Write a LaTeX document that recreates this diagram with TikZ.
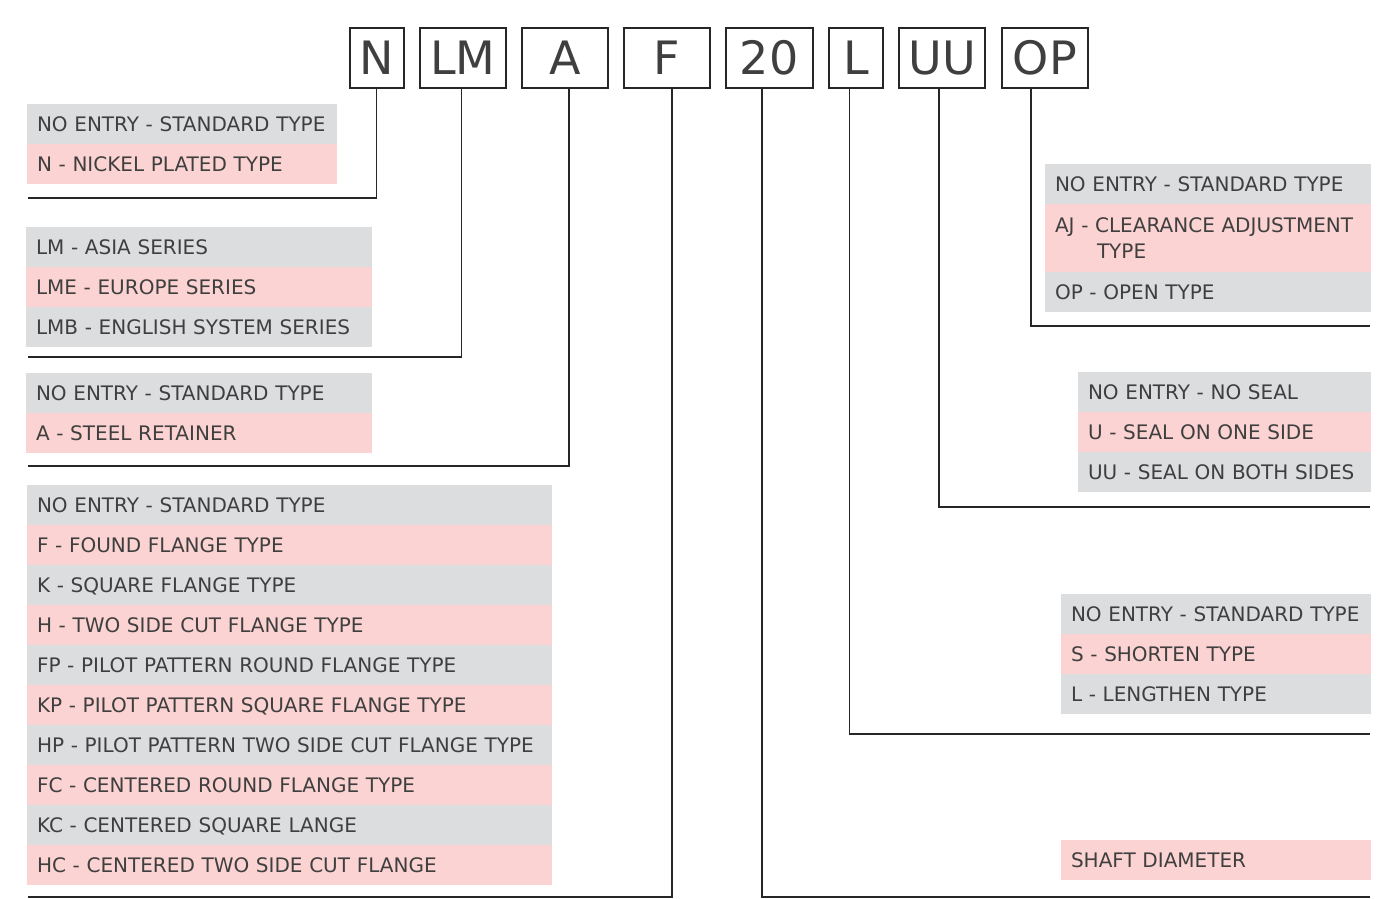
\documentclass[tikz,border=0pt]{standalone}
\usepackage{fontspec}
\setmainfont{DejaVu Sans}
\usepackage{xcolor}
\usepackage{tikz}
\definecolor{rowgray}{HTML}{DCDDDF}
\definecolor{rowpink}{HTML}{FBD3D2}
\definecolor{inkgray}{HTML}{3F3F3F}
\definecolor{linegray}{HTML}{262626}
\tikzstyle{codebox} = [draw=linegray, line width=2.3pt, minimum height=59.7pt, inner sep=0pt, text=inkgray, font=\fontsize{46}{50}\selectfont, text height=33.5pt, text depth=0pt]
\tikzstyle{item} = [anchor=north west, minimum height=40pt, inner xsep=10pt, inner ysep=0pt, outer sep=0pt, text height=14.6pt, text depth=0pt, align=left, text=inkgray, font=\fontsize{20}{26}\selectfont]
\tikzstyle{grayrow} = [item, fill=rowgray]
\tikzstyle{pinkrow} = [item, fill=rowpink]
\tikzstyle{lead} = [line width=1.5pt, draw=linegray]

\begin{document}
\begin{tikzpicture}[x=1pt, y=-1pt]
    \useasboundingbox (0,0) rectangle (1397,899);
    % code boxes
    \node[codebox, minimum width=54] (bN) at (376.7,58) {N};
    \node[codebox, minimum width=86] (bLM) at (462.7,58) {LM};
    \node[codebox, minimum width=86] (bA) at (565.2,58) {A};
    \node[codebox, minimum width=86] (bF) at (667.2,58) {F};
    \node[codebox, minimum width=87] (b20) at (769.2,58) {20};
    \node[codebox, minimum width=54] (bL) at (855.9,58) {L};
    \node[codebox, minimum width=86] (bUU) at (942.3,58) {UU};
    \node[codebox, minimum width=86] (bOP) at (1044.9,58) {OP};

    % left tables
    \node[grayrow, text width=290pt] (n1) at (27,104) {NO ENTRY - STANDARD TYPE};
    \node[pinkrow, text width=290pt] (n2) at (n1.south west) {N - NICKEL PLATED TYPE};

    \node[grayrow, text width=326pt] (lm1) at (26,227) {LM - ASIA SERIES};
    \node[pinkrow, text width=326pt] (lm2) at (lm1.south west) {LME - EUROPE SERIES};
    \node[grayrow, text width=326pt] (lm3) at (lm2.south west) {LMB - ENGLISH SYSTEM SERIES};

    \node[grayrow, text width=326pt] (a1) at (26,373) {NO ENTRY - STANDARD TYPE};
    \node[pinkrow, text width=326pt] (a2) at (a1.south west) {A - STEEL RETAINER};

    \node[grayrow, text width=505pt] (f1) at (27,485) {NO ENTRY - STANDARD TYPE};
    \node[pinkrow, text width=505pt] (f2) at (f1.south west) {F - FOUND FLANGE TYPE};
    \node[grayrow, text width=505pt] (f3) at (f2.south west) {K - SQUARE FLANGE TYPE};
    \node[pinkrow, text width=505pt] (f4) at (f3.south west) {H - TWO SIDE CUT FLANGE TYPE};
    \node[grayrow, text width=505pt] (f5) at (f4.south west) {FP - PILOT PATTERN ROUND FLANGE TYPE};
    \node[pinkrow, text width=505pt] (f6) at (f5.south west) {KP - PILOT PATTERN SQUARE FLANGE TYPE};
    \node[grayrow, text width=505pt] (f7) at (f6.south west) {HP - PILOT PATTERN TWO SIDE CUT FLANGE TYPE};
    \node[pinkrow, text width=505pt] (f8) at (f7.south west) {FC - CENTERED ROUND FLANGE TYPE};
    \node[grayrow, text width=505pt] (f9) at (f8.south west) {KC - CENTERED SQUARE LANGE};
    \node[pinkrow, text width=505pt] (f10) at (f9.south west) {HC - CENTERED TWO SIDE CUT FLANGE};

    % right tables
    \node[grayrow, text width=306pt] (op1) at (1045,164) {NO ENTRY - STANDARD TYPE};
    \node[pinkrow, text width=306pt, minimum height=68pt, text depth=26pt] (op2) at (op1.south west) {AJ - CLEARANCE ADJUSTMENT\\\hspace*{42pt}TYPE};
    \node[grayrow, text width=306pt] (op3) at (op2.south west) {OP - OPEN TYPE};

    \node[grayrow, text width=273pt] (uu1) at (1078,372) {NO ENTRY - NO SEAL};
    \node[pinkrow, text width=273pt] (uu2) at (uu1.south west) {U - SEAL ON ONE SIDE};
    \node[grayrow, text width=273pt] (uu3) at (uu2.south west) {UU - SEAL ON BOTH SIDES};

    \node[grayrow, text width=290pt] (l1) at (1061,594) {NO ENTRY - STANDARD TYPE};
    \node[pinkrow, text width=290pt] (l2) at (l1.south west) {S - SHORTEN TYPE};
    \node[grayrow, text width=290pt] (l3) at (l2.south west) {L - LENGTHEN TYPE};

    \node[pinkrow, text width=290pt] (d1) at (1061,840) {SHAFT DIAMETER};

    % leader lines
    \coordinate (eN) at (28,198);
    \coordinate (eLM) at (28,357);
    \coordinate (eA) at (28,466);
    \coordinate (eF) at (28,897);
    \coordinate (e20) at (1370,897);
    \coordinate (eL) at (1370,734);
    \coordinate (eUU) at (1370,507);
    \coordinate (eOP) at (1370,326);
    \draw[lead] (bN.south) |- (eN);
    \draw[lead] ([xshift=-1pt]bLM.south) |- (eLM);
    \draw[lead] ([xshift=3.8pt]bA.south) |- (eA);
    \draw[lead] ([xshift=5pt]bF.south) |- (eF);
    \draw[lead] ([xshift=-7.2pt]b20.south) |- (e20);
    \draw[lead] ([xshift=-6.6pt]bL.south) |- (eL);
    \draw[lead] ([xshift=-3.3pt]bUU.south) |- (eUU);
    \draw[lead] ([xshift=-13.9pt]bOP.south) |- (eOP);
  \end{tikzpicture}
\end{document}
